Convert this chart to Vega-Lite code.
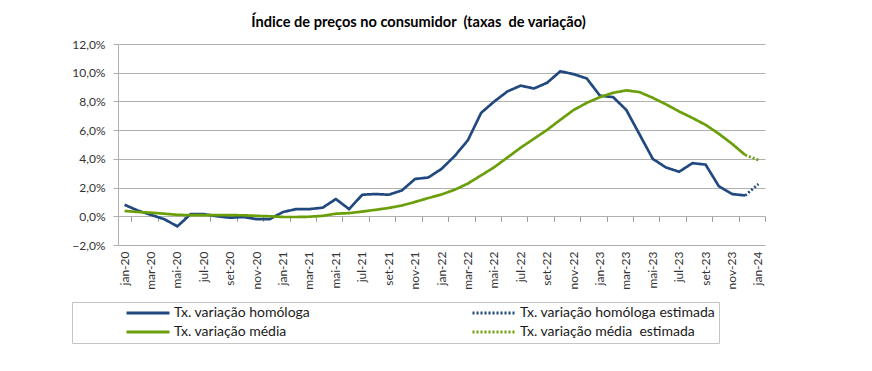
{
  "$schema": "https://vega.github.io/schema/vega-lite/v6.json",
  "width": 647,
  "height": 201,
  "autosize": "none",
  "padding": {"left": 118, "top": 44, "right": 107, "bottom": 126},
  "background": "white",
  "title": {
    "text": "Índice de preços no consumidor\u00a0 (taxas\u00a0 de variação)",
    "font": "Lato",
    "fontSize": 14.6,
    "fontWeight": "bold",
    "color": "#000000",
    "anchor": "middle",
    "dx": -23,
    "offset": 8
  },
  "config": {
    "view": {"stroke": null},
    "font": "Lato",
    "axis": {"labelFont": "Lato", "labelColor": "#333333"}
  },
  "datasets": {
    "cpi": [
      {"m": "jan-20", "s": "Tx. variação homóloga", "v": 0.8},
      {"m": "fev-20", "s": "Tx. variação homóloga", "v": 0.4},
      {"m": "mar-20", "s": "Tx. variação homóloga", "v": 0.1},
      {"m": "abr-20", "s": "Tx. variação homóloga", "v": -0.2},
      {"m": "mai-20", "s": "Tx. variação homóloga", "v": -0.7},
      {"m": "jun-20", "s": "Tx. variação homóloga", "v": 0.15},
      {"m": "jul-20", "s": "Tx. variação homóloga", "v": 0.15},
      {"m": "ago-20", "s": "Tx. variação homóloga", "v": 0.0},
      {"m": "set-20", "s": "Tx. variação homóloga", "v": -0.1},
      {"m": "out-20", "s": "Tx. variação homóloga", "v": -0.05},
      {"m": "nov-20", "s": "Tx. variação homóloga", "v": -0.2},
      {"m": "dez-20", "s": "Tx. variação homóloga", "v": -0.2},
      {"m": "jan-21", "s": "Tx. variação homóloga", "v": 0.3},
      {"m": "fev-21", "s": "Tx. variação homóloga", "v": 0.5},
      {"m": "mar-21", "s": "Tx. variação homóloga", "v": 0.5},
      {"m": "abr-21", "s": "Tx. variação homóloga", "v": 0.6},
      {"m": "mai-21", "s": "Tx. variação homóloga", "v": 1.2},
      {"m": "jun-21", "s": "Tx. variação homóloga", "v": 0.5},
      {"m": "jul-21", "s": "Tx. variação homóloga", "v": 1.5},
      {"m": "ago-21", "s": "Tx. variação homóloga", "v": 1.55},
      {"m": "set-21", "s": "Tx. variação homóloga", "v": 1.5},
      {"m": "out-21", "s": "Tx. variação homóloga", "v": 1.8},
      {"m": "nov-21", "s": "Tx. variação homóloga", "v": 2.6},
      {"m": "dez-21", "s": "Tx. variação homóloga", "v": 2.7},
      {"m": "jan-22", "s": "Tx. variação homóloga", "v": 3.3},
      {"m": "fev-22", "s": "Tx. variação homóloga", "v": 4.2},
      {"m": "mar-22", "s": "Tx. variação homóloga", "v": 5.3},
      {"m": "abr-22", "s": "Tx. variação homóloga", "v": 7.2},
      {"m": "mai-22", "s": "Tx. variação homóloga", "v": 8.0},
      {"m": "jun-22", "s": "Tx. variação homóloga", "v": 8.7},
      {"m": "jul-22", "s": "Tx. variação homóloga", "v": 9.1},
      {"m": "ago-22", "s": "Tx. variação homóloga", "v": 8.9},
      {"m": "set-22", "s": "Tx. variação homóloga", "v": 9.3},
      {"m": "out-22", "s": "Tx. variação homóloga", "v": 10.1},
      {"m": "nov-22", "s": "Tx. variação homóloga", "v": 9.9},
      {"m": "dez-22", "s": "Tx. variação homóloga", "v": 9.6},
      {"m": "jan-23", "s": "Tx. variação homóloga", "v": 8.4},
      {"m": "fev-23", "s": "Tx. variação homóloga", "v": 8.3},
      {"m": "mar-23", "s": "Tx. variação homóloga", "v": 7.4},
      {"m": "abr-23", "s": "Tx. variação homóloga", "v": 5.7},
      {"m": "mai-23", "s": "Tx. variação homóloga", "v": 4.0},
      {"m": "jun-23", "s": "Tx. variação homóloga", "v": 3.4},
      {"m": "jul-23", "s": "Tx. variação homóloga", "v": 3.1},
      {"m": "ago-23", "s": "Tx. variação homóloga", "v": 3.7},
      {"m": "set-23", "s": "Tx. variação homóloga", "v": 3.6},
      {"m": "out-23", "s": "Tx. variação homóloga", "v": 2.1},
      {"m": "nov-23", "s": "Tx. variação homóloga", "v": 1.55},
      {"m": "dez-23", "s": "Tx. variação homóloga", "v": 1.45},
      {"m": "dez-23", "s": "Tx. variação homóloga estimada", "v": 1.45},
      {"m": "jan-24", "s": "Tx. variação homóloga estimada", "v": 2.25},
      {"m": "jan-20", "s": "Tx. variação média", "v": 0.37},
      {"m": "fev-20", "s": "Tx. variação média", "v": 0.3},
      {"m": "mar-20", "s": "Tx. variação média", "v": 0.25},
      {"m": "abr-20", "s": "Tx. variação média", "v": 0.18},
      {"m": "mai-20", "s": "Tx. variação média", "v": 0.1},
      {"m": "jun-20", "s": "Tx. variação média", "v": 0.08},
      {"m": "jul-20", "s": "Tx. variação média", "v": 0.08},
      {"m": "ago-20", "s": "Tx. variação média", "v": 0.08},
      {"m": "set-20", "s": "Tx. variação média", "v": 0.08},
      {"m": "out-20", "s": "Tx. variação média", "v": 0.07},
      {"m": "nov-20", "s": "Tx. variação média", "v": 0.03},
      {"m": "dez-20", "s": "Tx. variação média", "v": 0.0},
      {"m": "jan-21", "s": "Tx. variação média", "v": -0.05},
      {"m": "fev-21", "s": "Tx. variação média", "v": -0.05},
      {"m": "mar-21", "s": "Tx. variação média", "v": -0.03},
      {"m": "abr-21", "s": "Tx. variação média", "v": 0.03},
      {"m": "mai-21", "s": "Tx. variação média", "v": 0.18},
      {"m": "jun-21", "s": "Tx. variação média", "v": 0.22},
      {"m": "jul-21", "s": "Tx. variação média", "v": 0.33},
      {"m": "ago-21", "s": "Tx. variação média", "v": 0.45},
      {"m": "set-21", "s": "Tx. variação média", "v": 0.58},
      {"m": "out-21", "s": "Tx. variação média", "v": 0.75},
      {"m": "nov-21", "s": "Tx. variação média", "v": 1.0},
      {"m": "dez-21", "s": "Tx. variação média", "v": 1.27},
      {"m": "jan-22", "s": "Tx. variação média", "v": 1.52},
      {"m": "fev-22", "s": "Tx. variação média", "v": 1.85},
      {"m": "mar-22", "s": "Tx. variação média", "v": 2.28},
      {"m": "abr-22", "s": "Tx. variação média", "v": 2.85},
      {"m": "mai-22", "s": "Tx. variação média", "v": 3.42},
      {"m": "jun-22", "s": "Tx. variação média", "v": 4.1},
      {"m": "jul-22", "s": "Tx. variação média", "v": 4.78},
      {"m": "ago-22", "s": "Tx. variação média", "v": 5.4},
      {"m": "set-22", "s": "Tx. variação média", "v": 6.02},
      {"m": "out-22", "s": "Tx. variação média", "v": 6.72},
      {"m": "nov-22", "s": "Tx. variação média", "v": 7.4},
      {"m": "dez-22", "s": "Tx. variação média", "v": 7.9},
      {"m": "jan-23", "s": "Tx. variação média", "v": 8.3},
      {"m": "fev-23", "s": "Tx. variação média", "v": 8.6},
      {"m": "mar-23", "s": "Tx. variação média", "v": 8.77},
      {"m": "abr-23", "s": "Tx. variação média", "v": 8.65},
      {"m": "mai-23", "s": "Tx. variação média", "v": 8.25},
      {"m": "jun-23", "s": "Tx. variação média", "v": 7.8},
      {"m": "jul-23", "s": "Tx. variação média", "v": 7.3},
      {"m": "ago-23", "s": "Tx. variação média", "v": 6.85},
      {"m": "set-23", "s": "Tx. variação média", "v": 6.37},
      {"m": "out-23", "s": "Tx. variação média", "v": 5.75},
      {"m": "nov-23", "s": "Tx. variação média", "v": 5.05},
      {"m": "dez-23", "s": "Tx. variação média", "v": 4.27},
      {"m": "dez-23", "s": "Tx. variação média\u00a0 estimada", "v": 4.27},
      {"m": "jan-24", "s": "Tx. variação média\u00a0 estimada", "v": 3.92}
    ]
  },
  "data": {"name": "cpi"},
  "encoding": {
    "x": {
      "field": "m",
      "type": "ordinal",
      "sort": ["jan-20","fev-20","mar-20","abr-20","mai-20","jun-20","jul-20","ago-20","set-20","out-20","nov-20","dez-20","jan-21","fev-21","mar-21","abr-21","mai-21","jun-21","jul-21","ago-21","set-21","out-21","nov-21","dez-21","jan-22","fev-22","mar-22","abr-22","mai-22","jun-22","jul-22","ago-22","set-22","out-22","nov-22","dez-22","jan-23","fev-23","mar-23","abr-23","mai-23","jun-23","jul-23","ago-23","set-23","out-23","nov-23","dez-23","jan-24"],
      "scale": {"type": "band", "paddingInner": 0, "paddingOuter": 0}
    },
    "y": {
      "field": "v",
      "type": "quantitative",
      "scale": {"domain": [-2, 12], "nice": false, "zero": false},
      "axis": {
        "title": null,
        "values": [-2, 0, 2, 4, 6, 8, 10, 12],
        "labelExpr": "replace(format(datum.value, '.1f'), '.', ',') + '%'",
        "labelFontSize": 12,
        "labelPadding": 8,
        "grid": true,
        "gridColor": "#b0b0b0",
        "gridWidth": 1,
        "domainColor": "#b0b0b0",
        "tickColor": "#b0b0b0",
        "tickSize": 5
      }
    },
    "color": {
      "field": "s",
      "type": "nominal",
      "scale": {
        "domain": ["Tx. variação homóloga", "Tx. variação homóloga estimada", "Tx. variação média", "Tx. variação média\u00a0 estimada"],
        "range": ["#22497f", "#22497f", "#6a9f0a", "#6a9f0a"]
      },
      "legend": {
        "orient": "none",
        "legendX": -46,
        "legendY": 258,
        "direction": "horizontal",
        "title": " ",
        "titleOrient": "left",
        "titlePadding": 50,
        "columns": 2,
        "columnPadding": 160,
        "rowPadding": 3,
        "clipHeight": 16,
        "padding": 3,
        "strokeColor": "#c4c4c4",
        "symbolType": "stroke",
        "symbolSize": 1849,
        "symbolStrokeWidth": 3,
        "labelFont": "Lato",
        "labelFontSize": 14,
        "labelColor": "#1a1a1a",
        "labelOffset": 3,
        "labelLimit": 400
      }
    },
    "strokeDash": {
      "field": "s",
      "type": "nominal",
      "scale": {
        "domain": ["Tx. variação homóloga", "Tx. variação homóloga estimada", "Tx. variação média", "Tx. variação média\u00a0 estimada"],
        "range": [[1, 0], [2, 2], [1, 0], [2, 2]]
      },
      "legend": null
    }
  },
  "layer": [
    {
      "transform": [{"filter": {"field": "s", "oneOf": ["Tx. variação homóloga", "Tx. variação média"]}}],
      "mark": {"type": "line", "strokeWidth": 2.7, "strokeCap": "butt"},
      "encoding": {
        "x": {
          "field": "m",
          "type": "ordinal",
          "sort": ["jan-20","fev-20","mar-20","abr-20","mai-20","jun-20","jul-20","ago-20","set-20","out-20","nov-20","dez-20","jan-21","fev-21","mar-21","abr-21","mai-21","jun-21","jul-21","ago-21","set-21","out-21","nov-21","dez-21","jan-22","fev-22","mar-22","abr-22","mai-22","jun-22","jul-22","ago-22","set-22","out-22","nov-22","dez-22","jan-23","fev-23","mar-23","abr-23","mai-23","jun-23","jul-23","ago-23","set-23","out-23","nov-23","dez-23","jan-24"],
          "scale": {"type": "band", "paddingInner": 0, "paddingOuter": 0},
          "axis": {
            "orient": "bottom",
            "title": null,
            "values": ["jan-20","mar-20","mai-20","jul-20","set-20","nov-20","jan-21","mar-21","mai-21","jul-21","set-21","nov-21","jan-22","mar-22","mai-22","jul-22","set-22","nov-22","jan-23","mar-23","mai-23","jul-23","set-23","nov-23","jan-24"],
            "ticks": false,
            "domain": false,
            "grid": false,
            "labelAngle": 270,
            "labelAlign": "right",
            "labelBaseline": "middle",
            "labelFontSize": 12,
            "labelPadding": 6
          }
        }
      }
    },
    {
      "transform": [{"filter": {"field": "s", "oneOf": ["Tx. variação homóloga estimada", "Tx. variação média\u00a0 estimada"]}}],
      "mark": {"type": "line", "strokeWidth": 2.7, "strokeCap": "butt"},
      "encoding": {
        "x": {
          "field": "m",
          "type": "ordinal",
          "sort": ["jan-20","fev-20","mar-20","abr-20","mai-20","jun-20","jul-20","ago-20","set-20","out-20","nov-20","dez-20","jan-21","fev-21","mar-21","abr-21","mai-21","jun-21","jul-21","ago-21","set-21","out-21","nov-21","dez-21","jan-22","fev-22","mar-22","abr-22","mai-22","jun-22","jul-22","ago-22","set-22","out-22","nov-22","dez-22","jan-23","fev-23","mar-23","abr-23","mai-23","jun-23","jul-23","ago-23","set-23","out-23","nov-23","dez-23","jan-24"],
          "scale": {"type": "band", "paddingInner": 0, "paddingOuter": 0},
          "axis": {
            "orient": "bottom",
            "offset": -28.7,
            "title": null,
            "values": ["jan-20","mar-20","mai-20","jul-20","set-20","nov-20","jan-21","mar-21","mai-21","jul-21","set-21","nov-21","jan-22","mar-22","mai-22","jul-22","set-22","nov-22","jan-23","mar-23","mai-23","jul-23","set-23","nov-23","jan-24"],
            "labels": false,
            "domain": false,
            "grid": false,
            "ticks": true,
            "tickBand": "extent",
            "tickColor": "#9a9a9a",
            "tickSize": 5
          }
        }
      }
    }
  ],
  "resolve": {"axis": {"x": "independent"}}
}
